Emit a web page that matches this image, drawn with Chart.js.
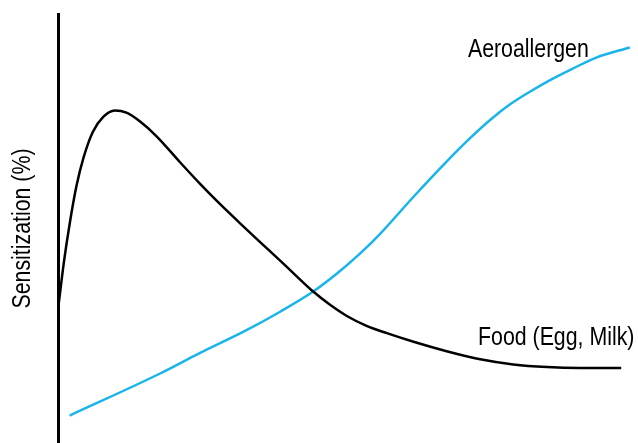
<!DOCTYPE html>
<html>
<head>
<meta charset="utf-8">
<script src="https://cdnjs.cloudflare.com/ajax/libs/Chart.js/4.4.1/chart.umd.min.js"></script>
<style>
  html,body{margin:0;padding:0;background:#fff;}
  #wrap{width:638px;height:443px;position:relative;}
</style>
</head>
<body>
<div id="wrap"><canvas id="chart"></canvas></div>
<script>
// Schematic curves: x = age (arbitrary 0..100), y = sensitization (arbitrary 0..100)
const FOOD_X = [0, 1.0, 2.0, 3.2, 4.4, 6.0, 7.8, 9.8, 11.8, 14.1, 17.0, 21.0, 24.5, 28.0, 31.4, 34.8, 38.3, 41.2, 44.0, 46.9, 49.8, 53.2, 56.7, 61.3, 67.0, 72.8, 78.5, 84.3, 90.0, 97.1];
const FOOD_Y = [31.0, 42.0, 51.0, 60.0, 66.5, 72.5, 76.0, 77.5, 77.0, 75.0, 71.5, 65.5, 60.4, 55.6, 51.2, 46.9, 42.5, 38.8, 35.3, 32.2, 29.6, 27.3, 25.6, 23.6, 21.4, 19.5, 18.3, 17.7, 17.5, 17.5];
const AERO_X = [2.0, 17.6, 24.5, 32.5, 38.3, 44.0, 48.1, 52.1, 55.5, 61.3, 67.0, 71.0, 74.5, 78.0, 81.5, 85.0, 88.5, 92.9, 98.6];
const AERO_Y = [6.4, 16.2, 21.0, 26.3, 30.6, 35.3, 39.5, 44.2, 48.7, 57.4, 65.6, 71.0, 75.3, 79.0, 82.0, 84.7, 87.1, 89.9, 92.2];

// curve labels, anchored in data units (centre x, baseline y)
const LABELS = [
  {text:'Aeroallergen',     x:81.1, y:90.0},
  {text:'Food (Egg, Milk)', x:85.9, y:22.8},
];
const Y_TITLE = 'Sensitization (%)';

const FONT = "'Liberation Sans',Arial,sans-serif";
const FONT_SIZE = 26, NARROW = 0.82;   // narrow face: regular sans squeezed horizontally
const toPts = (xs, ys) => xs.map((x,i)=>({x, y:ys[i]}));

function narrowText(ctx, text, x, y, rot){
  ctx.save();
  ctx.translate(x, y);
  if(rot) ctx.rotate(rot);
  ctx.scale(NARROW, 1);
  ctx.fillText(text, 0, 0);
  ctx.restore();
}

const labelPlugin = {
  id:'curveLabels',
  afterDatasetsDraw(chart){
    const {ctx, chartArea, scales:{x, y}} = chart;
    ctx.save();
    ctx.font = `${FONT_SIZE}px ${FONT}`;
    ctx.fillStyle = '#000';
    ctx.textAlign = 'center';
    ctx.textBaseline = 'alphabetic';
    LABELS.forEach(l => narrowText(ctx, l.text, x.getPixelForValue(l.x), y.getPixelForValue(l.y)));
    // y-axis title, rotated, centred on the axis
    ctx.textBaseline = 'middle';
    narrowText(ctx, Y_TITLE, 23, (chartArea.top + chartArea.bottom)/2, -Math.PI/2);
    ctx.restore();
  }
};

new Chart(document.getElementById('chart'), {
  type:'line',
  data:{
    datasets:[
      {label:'Food (Egg, Milk)', data:toPts(FOOD_X, FOOD_Y), borderColor:'#000', borderWidth:2.5,
       pointRadius:0, cubicInterpolationMode:'monotone', fill:false},
      {label:'Aeroallergen', data:toPts(AERO_X, AERO_Y), borderColor:'#1ab4ec', borderWidth:2.5,
       pointRadius:0, cubicInterpolationMode:'monotone', fill:false},
    ]
  },
  options:{
    responsive:true, maintainAspectRatio:false, animation:false,
    layout:{padding:{top:14, right:0, bottom:0, left:0}},
    plugins:{legend:{display:false}, tooltip:{enabled:false}},
    scales:{
      x:{type:'linear', min:0, max:100, display:false},
      y:{
        min:0, max:100,
        grid:{display:false, drawTicks:false},
        ticks:{display:false},
        border:{display:true, color:'#000', width:3},
        title:{display:false},
        afterFit(scale){ scale.width = 58; },
      }
    }
  },
  plugins:[labelPlugin]
});
</script>
</body>
</html>
